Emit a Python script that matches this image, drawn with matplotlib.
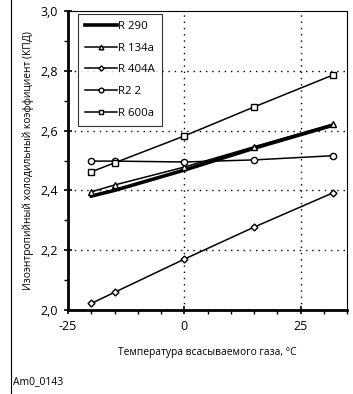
import matplotlib
matplotlib.use("Agg")
import matplotlib.pyplot as plt
from matplotlib.ticker import MultipleLocator, FuncFormatter
from matplotlib.lines import Line2D

temps = [-20, -15, 0, 15, 32]
r290 = [2.381, 2.400, 2.468, 2.541, 2.618]
r134a = [2.395, 2.418, 2.478, 2.546, 2.622]
r404a = [2.022, 2.059, 2.170, 2.277, 2.392]
r22 = [2.498, 2.498, 2.495, 2.502, 2.516]
r600a = [2.462, 2.492, 2.582, 2.679, 2.786]

plt.rcParams['font.family'] = ['Open Sans', 'DejaVu Sans']

fig = plt.figure(figsize=(3.53, 3.94), dpi=100)
ax = fig.add_axes([68 / 353, 1 - 310 / 394, (347 - 68) / 353, (310 - 11) / 394])

ax.plot(temps, r290, color='black', lw=2.6, label='R 290')
ax.plot(temps, r134a, color='black', lw=1.1, marker='^', ms=4.5, mfc='white', mec='black', label='R 134a')
ax.plot(temps, r404a, color='black', lw=1.1, marker='D', ms=3.5, mfc='white', mec='black', label='R 404A')
ax.plot(temps, r22, color='black', lw=1.1, marker='o', ms=4.5, mfc='white', mec='black', label='R2 2')
ax.plot(temps, r600a, color='black', lw=1.1, marker='s', ms=4.5, mfc='white', mec='black', label='R 600a')

ax.set_xlim(-25, 35)
ax.set_ylim(2.0, 3.0)
ax.xaxis.set_major_locator(MultipleLocator(25))
ax.xaxis.set_minor_locator(MultipleLocator(5))
ax.yaxis.set_major_locator(MultipleLocator(0.2))
ax.yaxis.set_minor_locator(MultipleLocator(0.1))
ax.yaxis.set_major_formatter(FuncFormatter(lambda v, p: f"{v:.1f}".replace('.', ',')))
ax.xaxis.set_major_formatter(FuncFormatter(lambda v, p: f"{v:.0f}"))

for y in [2.2, 2.4, 2.6, 2.8]:
    ax.axhline(y, color='black', lw=1.0, ls=(0, (1, 3.5)), zorder=0)
for x in [0, 25]:
    ax.axvline(x, color='black', lw=1.0, ls=(0, (1, 3.5)), zorder=0)

ax.spines['left'].set_linewidth(2)
ax.spines['bottom'].set_linewidth(2)
ax.spines['top'].set_linewidth(0.8)
ax.spines['right'].set_linewidth(0.8)
ax.tick_params(which='major', direction='inout', length=6, width=1.2, labelsize=9, pad=4)
ax.tick_params(which='minor', direction='out', length=3, width=1.0)

ax.set_xlabel('Температура всасываемого газа, °C', fontsize=7.4, labelpad=10)
ax.set_ylabel('Изоэнтропийный холодильный коэффициент (КПД)', fontsize=7.4, labelpad=5)

leg = ax.legend(loc='upper left', bbox_to_anchor=(10 / 279, 0.99), fontsize=8.2, frameon=True,
                fancybox=False, edgecolor='black', handlelength=2.8, handletextpad=0.15,
                labelspacing=0.95, borderpad=0.6, borderaxespad=0, markerscale=0.75)
leg.get_frame().set_linewidth(0.8)

fig.add_artist(Line2D([10.5 / 353, 10.5 / 353], [0, 1], color='black', lw=0.8))
fig.text(13 / 353, 1 - 382 / 394, 'Am0_0143', fontsize=7.5, va='center', ha='left')

fig.savefig('out.png', dpi=100)
